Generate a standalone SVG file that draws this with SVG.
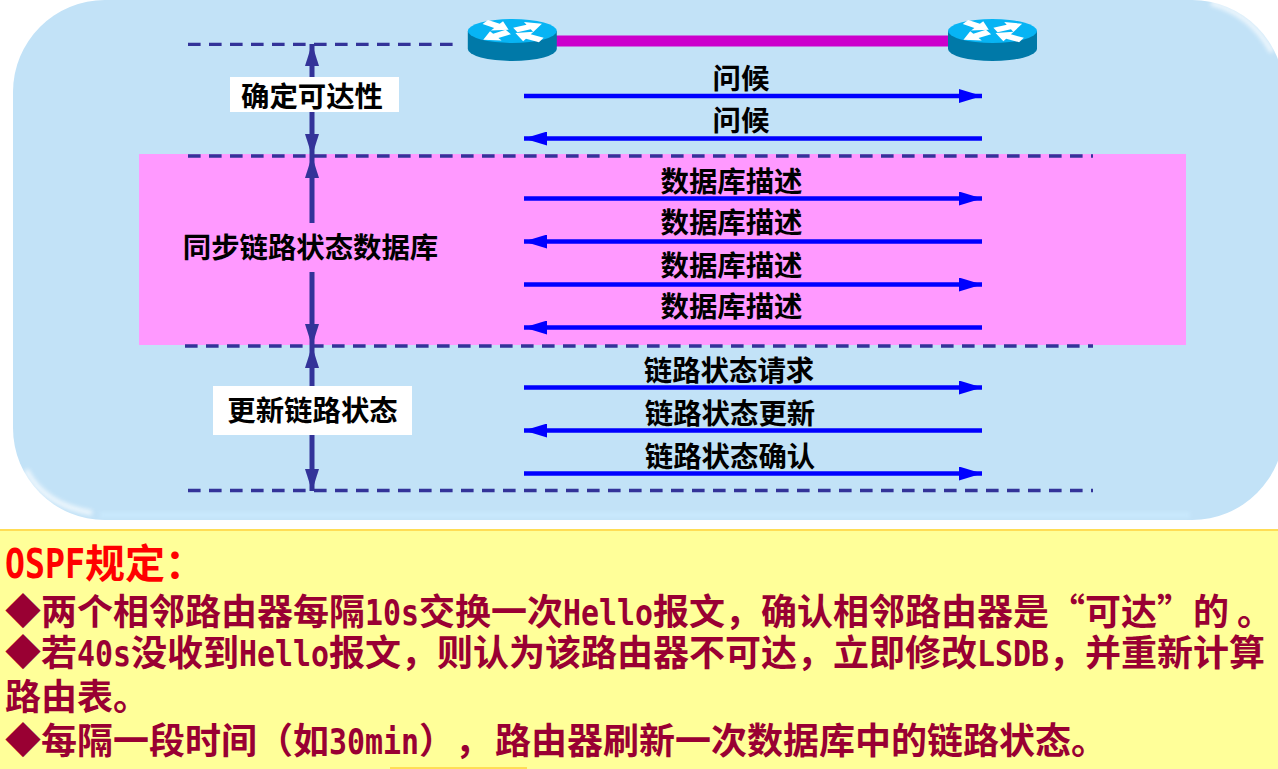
<svg xmlns="http://www.w3.org/2000/svg" width="1278" height="769" viewBox="0 0 1278 769">
<style>
text{font-family:"Noto Sans CJK SC","Liberation Sans",sans-serif;font-weight:700;text-spacing-trim:space-all}
.lab{font-size:28.4px;fill:#000;text-anchor:middle}
.msg{stroke:#00f;stroke-width:4.5;fill:none}
.r{marker-end:url(#hb)}
.l{marker-start:url(#hbs)}
.dash{stroke:#339;stroke-width:3.3;stroke-dasharray:12.6 8.4;fill:none}
.span{stroke:#339;stroke-width:5;fill:none;marker-start:url(#ps);marker-end:url(#pe)}
.body{font-size:36px;fill:#903}
.title{font-size:40px;fill:#f00}
.m{font-family:"DejaVu Sans Mono",monospace;font-weight:700}
</style>
<defs>
<marker id="hb" markerUnits="userSpaceOnUse" markerWidth="24" markerHeight="16" refX="23" refY="7" orient="auto"><path d="M0 0L23 7 0 14z" fill="#00f"/></marker>
<marker id="hbs" markerUnits="userSpaceOnUse" markerWidth="24" markerHeight="16" refX="0" refY="7" orient="auto"><path d="M23 0L0 7 23 14z" fill="#00f"/></marker>
<marker id="pe" markerUnits="userSpaceOnUse" markerWidth="24" markerHeight="16" refX="22" refY="7" orient="auto"><path d="M0 0L22 7 0 14z" fill="#339"/></marker>
<marker id="ps" markerUnits="userSpaceOnUse" markerWidth="24" markerHeight="16" refX="0" refY="7" orient="auto"><path d="M22 0L0 7 22 14z" fill="#339"/></marker>
<filter id="soft" x="-20%" y="-20%" width="140%" height="140%"><feGaussianBlur stdDeviation="2"/></filter>
<polygon id="ra" points="0,-5 14,-5 14,-11 28,0 14,11 14,5 0,5" fill="#fff"/>
<g id="router">
<path d="M-44.5 0V18A44.5 12 0 0 0 44.5 18V0z" fill="#0079A8"/>
<ellipse cx="0" cy="0" rx="44.5" ry="12" fill="#07B4F4"/>
<g transform="scale(1,.5)">
<use href="#ra" transform="translate(-27,-18) rotate(33.7)"/>
<use href="#ra" transform="translate(3,-2) rotate(-25) scale(1.05,1)"/>
<use href="#ra" transform="translate(-4,2) rotate(148.4) scale(1.05,1)"/>
<use href="#ra" transform="translate(29,18) rotate(208.3) scale(1.05,1)"/>
</g>
</g>
</defs>
<rect width="1278" height="769" fill="#fff"/>
<g id="panel">
<rect x="13" y="0" width="1271" height="520" rx="92" ry="92" fill="#C2E2F7"/>
<path d="M1211 3Q1252 14 1272 52" fill="none" stroke="#fff" stroke-width="5" opacity=".75" filter="url(#soft)"/>
<path d="M26 470Q44 505 92 513" fill="none" stroke="#fff" stroke-width="5" opacity=".75" filter="url(#soft)"/>
<rect x="100" y="512" width="1090" height="6" fill="#C9E9FD" filter="url(#soft)"/>
<rect x="139" y="154" width="1047" height="191" fill="#F9F"/>
</g>
<g id="connectors">
<path class="dash" d="M188 44.3H453"/>
<path class="dash" d="M188 156H1093"/>
<path class="dash" d="M185 346H1093"/>
<path class="dash" d="M188 490.5H1093"/>
<path class="span" d="M312 44V156"/>
<path class="span" d="M312 156V346"/>
<path class="span" d="M312 346V491"/>
<path d="M556 41H948" stroke="#C0C" stroke-width="11" fill="none"/>
<path class="msg r" d="M524 96H982"/>
<path class="msg l" d="M524 138.500H982"/>
<path class="msg r" d="M524 198.500H982"/>
<path class="msg l" d="M524 241.500H982"/>
<path class="msg r" d="M524 284.500H982"/>
<path class="msg l" d="M524 327.500H982"/>
<path class="msg r" d="M524 387.500H982"/>
<path class="msg l" d="M524 430.500H982"/>
<path class="msg r" d="M524 473.500H982"/>
</g>
<g id="router-a"><use href="#router" x="512.3" y="31"/></g>
<g id="router-b"><use href="#router" x="992.5" y="31"/></g>
<g id="phase-reach"><rect x="230" y="77" width="169" height="35" fill="#fff"/><text class="lab" x="312" y="107">确定可达性</text></g>
<g id="phase-sync"><rect x="180" y="223" width="262" height="49" fill="#F9F"/><text class="lab" x="310.500" y="258">同步链路状态数据库</text></g>
<g id="phase-update"><rect x="213" y="386" width="199" height="49" fill="#fff"/><text class="lab" x="312.500" y="421">更新链路状态</text></g>
<g id="messages">
<text class="lab" x="741" y="89">问候</text>
<text class="lab" x="741" y="131">问候</text>
<text class="lab" x="731.500" y="192">数据库描述</text>
<text class="lab" x="731.500" y="233">数据库描述</text>
<text class="lab" x="731.500" y="276">数据库描述</text>
<text class="lab" x="731.500" y="317">数据库描述</text>
<text class="lab" x="729" y="381">链路状态请求</text>
<text class="lab" x="730" y="424">链路状态更新</text>
<text class="lab" x="730" y="467">链路状态确认</text>
</g>
<g id="notes">
<rect x="0" y="530" width="1278" height="239" fill="#FF9"/>
<rect x="0" y="529" width="1278" height="2" fill="#FD5"/>
<rect x="390" y="767" width="137" height="2" fill="#FD5"/>
<text class="title" x="5" y="578"><tspan class="m" textLength="80" lengthAdjust="spacingAndGlyphs">OSPF</tspan><tspan x="85">规定：</tspan></text>
<text class="body" x="5" y="625">◆两个相邻路由器每隔<tspan class="m" x="365" textLength="54" lengthAdjust="spacingAndGlyphs">10s</tspan><tspan x="419">交换一次</tspan><tspan class="m" x="563" textLength="90" lengthAdjust="spacingAndGlyphs">Hello</tspan><tspan x="653">报文，确认相邻路由器是</tspan><tspan x="1049">“</tspan><tspan x="1085">可达</tspan><tspan x="1157">”</tspan><tspan x="1193">的</tspan><tspan x="1237">。</tspan></text>
<text class="body" x="5" y="666">◆若<tspan class="m" x="77" textLength="54" lengthAdjust="spacingAndGlyphs">40s</tspan><tspan x="131">没收到</tspan><tspan class="m" x="239" textLength="90" lengthAdjust="spacingAndGlyphs">Hello</tspan><tspan x="329">报文，则认为该路由器不可达，立即修改</tspan><tspan class="m" x="977" textLength="72" lengthAdjust="spacingAndGlyphs">LSDB</tspan><tspan x="1049">，并重新计算</tspan></text>
<text class="body" x="5" y="710">路由表<tspan x="113">。</tspan></text>
<text class="body" x="5" y="754">◆每隔一段时间（如<tspan class="m" x="329" textLength="90" lengthAdjust="spacingAndGlyphs">30min</tspan><tspan x="419">）</tspan><tspan x="455">，</tspan><tspan x="495">路由器刷新一次数据库中的链路状态</tspan><tspan x="1071">。</tspan></text>
</g>
</svg>
